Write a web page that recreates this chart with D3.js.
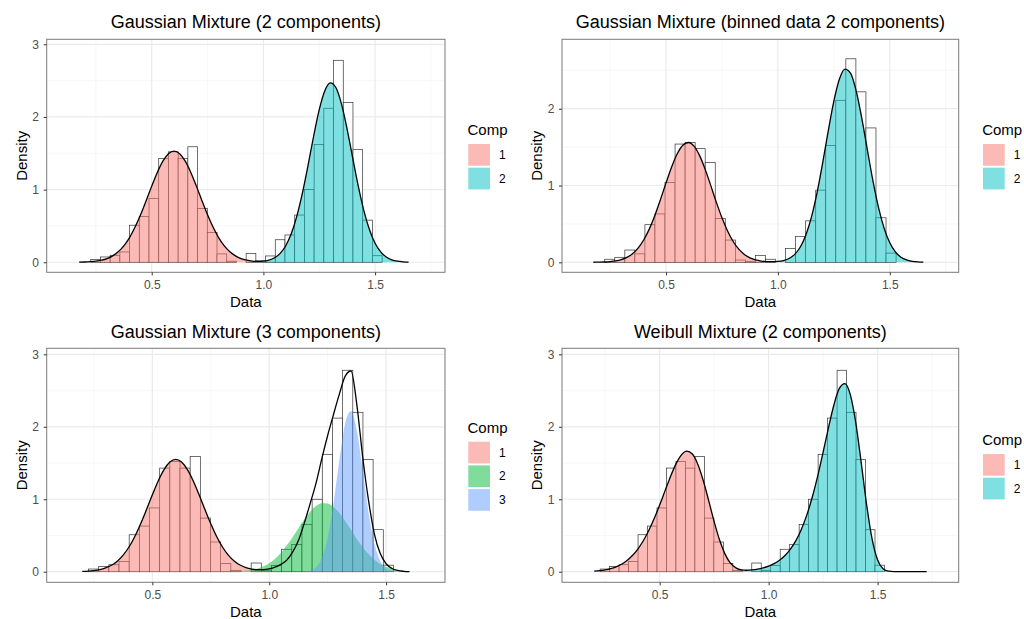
<!DOCTYPE html>
<html>
<head>
<meta charset="utf-8">
<script src="https://cdn.jsdelivr.net/npm/d3@7"></script>
<style>
  body { margin: 0; background: #fff; }
  svg { display: block; font-family: "Liberation Sans", Arial, sans-serif; }
</style>
</head>
<body>
<div class="chart"></div>
<script>
// raw data histogram, 30 bins, density scale
let histStart = 0.227;
let histWidth = 0.04348;
let histDensity = [0.037, 0.073, 0.096, 0.142, 0.51, 0.63, 0.88, 1.43, 1.52, 1.43,
  1.59, 0.74, 0.41, 0.115, 0.015, 0, 0.12, 0.02, 0.087, 0.31,
  0.376, 0.65, 1.0, 1.62, 2.12, 2.78, 2.20, 1.55, 0.58, 0.09];

// binned data histogram, 29 bins
let binnedStart = 0.226;
let binnedWidth = 0.0449;
let binnedDensity = [0.04, 0.065, 0.16, 0.11, 0.49, 0.63, 1.04, 1.54, 1.56, 1.48,
  1.30, 0.57, 0.29, 0.03, 0.01, 0.09, 0.04, 0, 0.18, 0.335,
  0.54, 0.94, 1.52, 2.11, 2.65, 2.22, 1.75, 0.58, 0.12];

// component densities, read every 0.025 starting at the "From" value
let step = 0.025;

let gm2Comp1From = 0.175;
let gm2Comp1 = [0.002, 0.004, 0.008, 0.015, 0.028, 0.051, 0.088, 0.144, 0.226, 0.337,
  0.481, 0.653, 0.847, 1.048, 1.237, 1.392, 1.494, 1.530, 1.494, 1.392,
  1.237, 1.048, 0.847, 0.653, 0.481, 0.337, 0.226, 0.144, 0.088, 0.051,
  0.028, 0.015, 0.008, 0.004, 0.002, 0.001];
let gm2Comp2From = 0.9;
let gm2Comp2 = [0.000, 0.001, 0.002, 0.005, 0.012, 0.028, 0.061, 0.122, 0.228, 0.395,
  0.638, 0.958, 1.337, 1.738, 2.100, 2.361, 2.469, 2.402, 2.174, 1.830,
  1.434, 1.045, 0.708, 0.447, 0.262, 0.143, 0.073, 0.034, 0.015, 0.006, 0.002];

let binComp1From = 0.175;
let binComp1 = [0.001, 0.002, 0.004, 0.009, 0.018, 0.035, 0.064, 0.112, 0.185, 0.291,
  0.432, 0.610, 0.816, 1.034, 1.241, 1.413, 1.525, 1.560, 1.512, 1.389,
  1.210, 0.999, 0.781, 0.579, 0.407, 0.271, 0.171, 0.103, 0.058, 0.031,
  0.016, 0.008, 0.004, 0.002, 0.001];
let binComp2From = 0.9;
let binComp2 = [0.000, 0.000, 0.001, 0.004, 0.009, 0.022, 0.050, 0.103, 0.199, 0.356,
  0.591, 0.908, 1.295, 1.712, 2.099, 2.387, 2.516, 2.460, 2.230, 1.875,
  1.461, 1.056, 0.708, 0.440, 0.254, 0.136, 0.067, 0.031, 0.013, 0.005, 0.002];

let gm3Comp1From = 0.2;
let gm3Comp1 = [0.004, 0.008, 0.015, 0.028, 0.052, 0.089, 0.146, 0.229, 0.341, 0.487,
  0.662, 0.858, 1.062, 1.253, 1.410, 1.514, 1.550, 1.514, 1.410, 1.253,
  1.062, 0.858, 0.662, 0.487, 0.341, 0.229, 0.146, 0.089, 0.052, 0.028,
  0.015, 0.008, 0.004, 0.002, 0.001];
let gm3Comp2From = 0.8;
let gm3Comp2 = [0.001, 0.002, 0.004, 0.007, 0.014, 0.025, 0.044, 0.074, 0.118, 0.179,
  0.260, 0.361, 0.477, 0.601, 0.723, 0.829, 0.907, 0.946, 0.942, 0.894,
  0.810, 0.699, 0.576, 0.453, 0.339, 0.243, 0.165, 0.108, 0.067, 0.040,
  0.022, 0.012, 0.006];
let gm3Comp3From = 1.125;
let gm3Comp3 = [0.001, 0.004, 0.017, 0.062, 0.190, 0.469, 0.942, 1.541, 2.049, 2.217,
  1.950, 1.396, 0.812, 0.385, 0.148, 0.046, 0.012, 0.002];
let gm3TotalFrom = 0.2;
let gm3Total = [0.004, 0.008, 0.015, 0.028, 0.052, 0.089, 0.146, 0.229, 0.341, 0.487,
  0.662, 0.858, 1.062, 1.253, 1.410, 1.514, 1.550, 1.514, 1.410, 1.253,
  1.062, 0.858, 0.662, 0.487, 0.341, 0.229, 0.148, 0.092, 0.057, 0.036,
  0.027, 0.028, 0.039, 0.062, 0.101, 0.16, 0.27, 0.43, 0.67, 0.94,
  1.22, 1.56, 1.88, 2.17, 2.45, 2.70, 2.77, 2.30, 1.58, 0.98,
  0.52, 0.25, 0.11, 0.045, 0.017, 0.006, 0.002];

let wbComp1From = 0.2;
let wbComp1 = [0.007, 0.014, 0.025, 0.042, 0.067, 0.103, 0.154, 0.223, 0.313, 0.427,
  0.568, 0.733, 0.920, 1.119, 1.315, 1.488, 1.613, 1.664, 1.624, 1.484,
  1.259, 0.981, 0.691, 0.435, 0.240, 0.114, 0.046, 0.015, 0.004, 0.001];
let wbComp2From = 0.75;
let wbComp2 = [0.001, 0.002, 0.003, 0.004, 0.007, 0.010, 0.016, 0.024, 0.036, 0.053,
  0.077, 0.111, 0.158, 0.223, 0.312, 0.429, 0.584, 0.781, 1.027, 1.319,
  1.649, 1.993, 2.308, 2.533, 2.596, 2.440, 2.052, 1.499, 0.916, 0.446,
  0.163, 0.042, 0.007, 0.001, 0, 0, 0, 0, 0, 0];

let xTicks = [0.5, 1.0, 1.5];
let xMinor = [0.25, 0.75, 1.25, 1.75];
let yMinor = [0.5, 1.5, 2.5];

let colors2 = ['#F8766D', '#00BFC4'];
let colors3 = ['#F8766D', '#00BA38', '#619CFF'];

let panels = [
  {title: 'Gaussian Mixture (2 components)', left: 46.7, top: 39.3, width: 398.3, height: 233,
    xDomain: [0.0298, 1.813], yDomain: [-0.138, 3.069], yTicks: [0, 1, 2, 3],
    hist: {from: histStart, width: histWidth, values: histDensity},
    comps: [{from: gm2Comp1From, values: gm2Comp1}, {from: gm2Comp2From, values: gm2Comp2}],
    colors: colors2, titleY: 28, keyX: 468.3, legendY: 135},
  {title: 'Gaussian Mixture (binned data 2 components)', left: 562, top: 39.3, width: 396.7, height: 233,
    xDomain: [0.035, 1.808], yDomain: [-0.130, 2.904], yTicks: [0, 1, 2],
    hist: {from: binnedStart, width: binnedWidth, values: binnedDensity},
    comps: [{from: binComp1From, values: binComp1}, {from: binComp2From, values: binComp2}],
    colors: colors2, titleY: 28, keyX: 983, legendY: 135},
  {title: 'Gaussian Mixture (3 components)', left: 46.7, top: 348.3, width: 398.3, height: 234,
    xDomain: [0.048, 1.752], yDomain: [-0.146, 3.083], yTicks: [0, 1, 2, 3],
    hist: {from: histStart, width: histWidth, values: histDensity},
    comps: [{from: gm3Comp1From, values: gm3Comp1}, {from: gm3Comp2From, values: gm3Comp2},
      {from: gm3Comp3From, values: gm3Comp3}],
    total: {from: gm3TotalFrom, values: gm3Total},
    colors: colors3, titleY: 338, keyX: 468.3, legendY: 432.7},
  {title: 'Weibull Mixture (2 components)', left: 562, top: 348.3, width: 396.7, height: 234,
    xDomain: [0.052, 1.872], yDomain: [-0.146, 3.083], yTicks: [0, 1, 2, 3],
    hist: {from: histStart, width: histWidth, values: histDensity},
    comps: [{from: wbComp1From, values: wbComp1}, {from: wbComp2From, values: wbComp2}],
    colors: colors2, titleY: 338, keyX: 983, legendY: 445}
];

let svg = d3.select('.chart')
  .append('svg')
    .attr('width', 1024)
    .attr('height', 619);

panels.forEach(p => {
  let right = p.left + p.width;
  let bottom = p.top + p.height;
  let x = d3.scaleLinear().domain(p.xDomain).range([p.left, right]);
  let y = d3.scaleLinear().domain(p.yDomain).range([bottom, p.top]);
  let g = svg.append('g');

  // grid
  g.selectAll('.vmin').data(xMinor).join('line')
    .attr('x1', d => x(d)).attr('x2', d => x(d))
    .attr('y1', p.top).attr('y2', bottom)
    .attr('stroke', '#F3F3F3').attr('stroke-width', 0.7);
  g.selectAll('.hmin').data(yMinor).join('line')
    .attr('x1', p.left).attr('x2', right)
    .attr('y1', d => y(d)).attr('y2', d => y(d))
    .attr('stroke', '#F3F3F3').attr('stroke-width', 0.7);
  g.selectAll('.vmaj').data(xTicks).join('line')
    .attr('x1', d => x(d)).attr('x2', d => x(d))
    .attr('y1', p.top).attr('y2', bottom)
    .attr('stroke', '#EBEBEB').attr('stroke-width', 1.2);
  g.selectAll('.hmaj').data(p.yTicks).join('line')
    .attr('x1', p.left).attr('x2', right)
    .attr('y1', d => y(d)).attr('y2', d => y(d))
    .attr('stroke', '#EBEBEB').attr('stroke-width', 1.2);

  // histogram
  g.selectAll('.bar').data(p.hist.values).join('rect')
    .attr('x', (d, i) => x(p.hist.from + i * p.hist.width))
    .attr('width', x(p.hist.width) - x(0))
    .attr('y', d => y(d))
    .attr('height', d => y(0) - y(d))
    .attr('fill', '#fff')
    .attr('stroke', '#333')
    .attr('stroke-width', 0.7);

  // components
  let area = d3.area()
    .x(d => x(d[0]))
    .y0(y(0))
    .y1(d => y(d[1]))
    .curve(d3.curveMonotoneX);
  p.comps.forEach((c, ci) => {
    let pts = c.values.map((v, i) => [c.from + i * step, v]);
    g.append('path')
      .datum(pts)
      .attr('d', area)
      .attr('fill', p.colors[ci])
      .attr('fill-opacity', 0.5);
  });

  // mixture line: read directly when given, else the sum of the components
  let total;
  if (p.total) {
    total = p.total.values.map((v, i) => [p.total.from + i * step, v]);
  } else {
    let sums = new Map();
    p.comps.forEach(c => {
      let k0 = Math.round(c.from / step);
      c.values.forEach((v, i) => sums.set(k0 + i, (sums.get(k0 + i) || 0) + v));
    });
    total = Array.from(sums.keys()).sort((a, b) => a - b).map(k => [k * step, sums.get(k)]);
  }
  g.append('path')
    .datum(total)
    .attr('d', d3.line().x(d => x(d[0])).y(d => y(d[1])).curve(d3.curveMonotoneX))
    .attr('fill', 'none')
    .attr('stroke', '#000')
    .attr('stroke-width', 1.3);

  // border
  g.append('rect')
    .attr('x', p.left).attr('y', p.top)
    .attr('width', p.width).attr('height', p.height)
    .attr('fill', 'none')
    .attr('stroke', '#7a7a7a')
    .attr('stroke-width', 1);

  // axes
  let xAxis = d3.axisBottom(x)
    .tickValues(xTicks)
    .tickFormat(d3.format('.1f'))
    .tickSize(3)
    .tickPadding(5.5);
  let gx = g.append('g')
    .attr('transform', `translate(0, ${bottom})`)
    .call(xAxis);
  let yAxis = d3.axisLeft(y)
    .tickValues(p.yTicks)
    .tickFormat(d3.format('d'))
    .tickSize(3)
    .tickPadding(4.7);
  let gy = g.append('g')
    .attr('transform', `translate(${p.left}, 0)`)
    .call(yAxis);
  [gx, gy].forEach(a => {
    a.select('.domain').remove();
    a.selectAll('.tick line').attr('stroke', '#333');
    a.selectAll('.tick text')
      .attr('fill', '#4D4D4D')
      .style('font-size', '12px')
      .style('font-family', '"Liberation Sans", Arial, sans-serif');
  });

  // titles
  g.append('text')
    .attr('x', (p.left + right) / 2)
    .attr('y', p.titleY)
    .attr('text-anchor', 'middle')
    .style('font-size', '18px')
    .text(p.title);
  g.append('text')
    .attr('x', (p.left + right) / 2)
    .attr('y', bottom + 34.7)
    .attr('text-anchor', 'middle')
    .style('font-size', '15px')
    .text('Data');
  g.append('text')
    .attr('transform', `translate(${p.left - 19.6}, ${(p.top + bottom) / 2}) rotate(-90)`)
    .attr('text-anchor', 'middle')
    .style('font-size', '15px')
    .text('Density');

  // legend
  g.append('text')
    .attr('x', p.keyX - 0.8)
    .attr('y', p.legendY)
    .style('font-size', '15px')
    .text('Comp');
  p.comps.forEach((c, ci) => {
    let ky = p.legendY + 9 + ci * 23.7;
    g.append('rect')
      .attr('x', p.keyX).attr('y', ky)
      .attr('width', 21.7).attr('height', 21.7)
      .attr('fill', p.colors[ci])
      .attr('fill-opacity', 0.5);
    g.append('text')
      .attr('x', p.keyX + 30.7)
      .attr('y', ky + 10.85)
      .attr('dy', '0.35em')
      .style('font-size', '12px')
      .text(ci + 1);
  });
});
</script>
</body>
</html>
